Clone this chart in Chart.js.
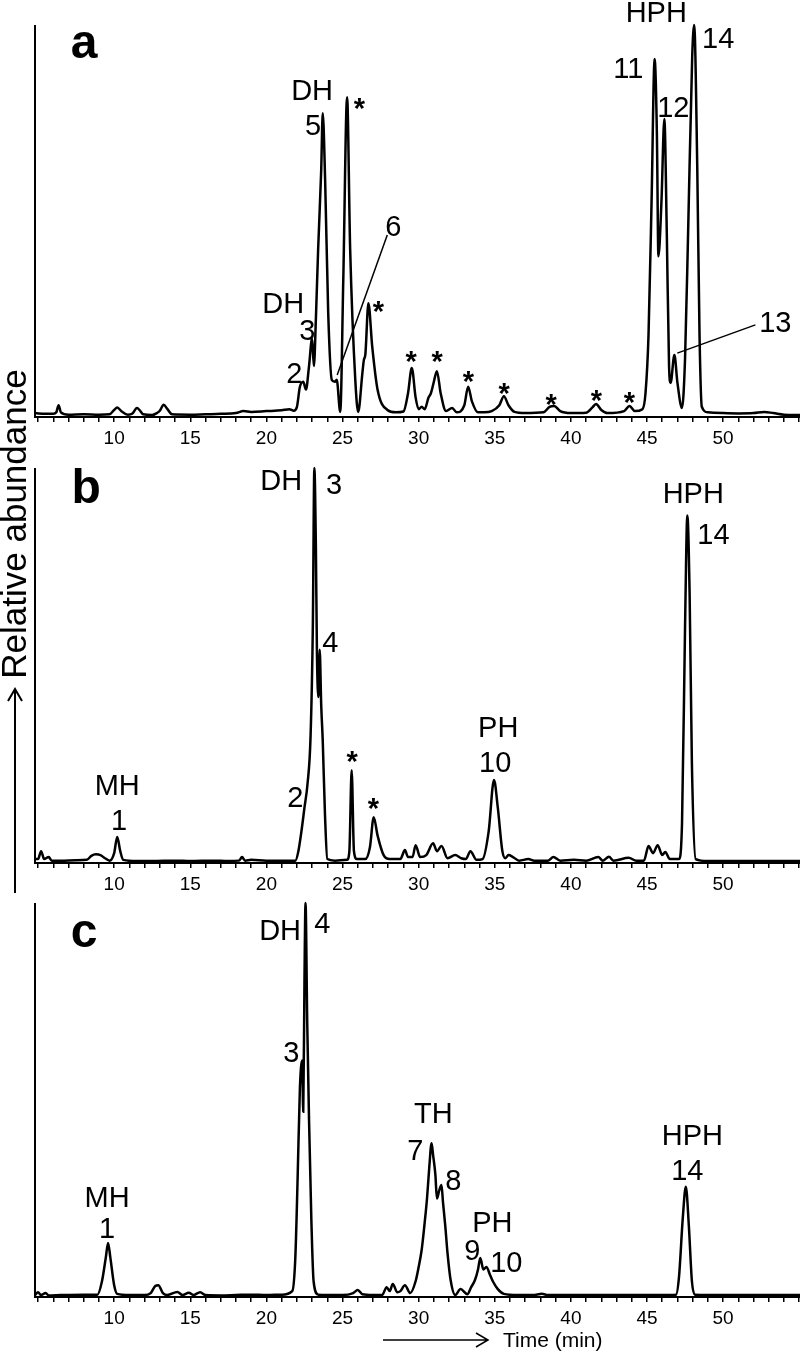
<!DOCTYPE html>
<html>
<head>
<meta charset="utf-8">
<script src="https://cdn.jsdelivr.net/npm/chart.js@4.4.0/dist/chart.umd.min.js"></script>
<style>
html, body { margin: 0; padding: 0; background: #fff; }
#wrap { position: relative; width: 800px; height: 1352px; overflow: hidden; }
#wrap canvas { position: absolute; left: 0; top: 0; }
</style>
</head>
<body>
<div id="wrap">
  <canvas id="chartA" width="800" height="1352"></canvas>
  <canvas id="chartB" width="800" height="1352"></canvas>
  <canvas id="chartC" width="800" height="1352"></canvas>
</div>
<script>
// Retention time (min) and relative abundance
const timesA = [4.8, 5.5, 6.0, 6.2, 6.35, 6.5, 7.0, 8.0, 9.0, 9.7, 10.0, 10.2, 10.5, 10.9, 11.2, 11.5, 11.7, 11.9, 12.5, 12.8, 13.0, 13.25, 13.5, 13.8,
  15, 16, 17, 18, 18.5, 19, 20, 21, 21.5, 21.8, 22.0, 22.2, 22.42, 22.6, 22.8, 23.0, 23.12, 23.25, 23.4, 23.6, 23.7, 23.86, 24.06, 24.3, 24.5, 24.62, 24.85,
  25.05, 25.3, 25.5, 25.84, 26.03, 26.3, 26.4, 26.5, 26.7, 26.95, 27.3, 27.95, 28.5, 29.0, 29.3, 29.55, 29.8, 30.0, 30.2, 30.4, 30.65, 30.8, 31.0, 31.2, 31.45, 31.8,
  32.2, 32.5, 33.0, 33.25, 33.5, 33.9, 34.3, 34.8, 35.3, 35.6, 35.9, 36.3, 37, 38.2, 38.6, 38.9, 39.3, 40, 41.0, 41.4, 41.65, 42.0, 42.4, 43.5, 43.85, 44.2, 44.7,
  44.9, 45.1, 45.3, 45.5, 45.65, 45.75, 45.95, 46.14, 46.3, 46.45, 46.55, 46.8, 47.0, 47.3, 47.5, 47.7, 47.97, 48.1, 48.3, 48.45, 48.6, 49.0, 50, 51, 52, 52.7, 53.3, 54, 55.05];
const abundA = [1.0, 0.8, 0.8, 1.2, 3.0, 1.2, 0.6, 0.7, 0.6, 0.7, 1.8, 2.4, 1.4, 0.6, 0.9, 2.3, 1.6, 0.7, 0.5, 1.0, 1.6, 3.1, 2.0, 0.7,
  0.6, 0.7, 0.8, 1.0, 1.5, 1.3, 1.5, 1.7, 2.0, 1.6, 2.5, 7.7, 9.0, 7.0, 13, 20, 13, 25, 43, 63, 77.5, 60, 26.5, 9.4, 9.0, 9.5, 1.3,
  35, 81.6, 43, 9.4, 1.3, 11, 14.5, 16, 29, 18, 7, 1.8, 1.2, 1.4, 6, 12.5, 5, 2, 2.6, 2.0, 5, 6, 9, 11.7, 6, 1.5,
  2.3, 1.2, 3, 7.7, 4, 1.2, 1.2, 1.5, 3, 5.3, 3, 1.3, 1.0, 1.2, 2.6, 2.8, 1.5, 1.0, 1.1, 2.4, 3.3, 1.8, 1.0, 1.5, 2.8, 1.5, 2.0,
  6, 21, 55, 91.3, 72, 41, 55, 76, 47, 12.8, 8.7, 15.8, 8.7, 2.3, 15, 47, 92, 100, 64, 21, 2.6, 1.2, 1.0, 0.9, 1.0, 1.3, 1.0, 0.6, 0.5];

const timesB = [4.8, 5.0, 5.2, 5.4, 5.7, 5.9, 6.5, 7.5, 8.2, 8.5, 8.8, 9.1, 9.4, 9.7, 10.0, 10.2, 10.4, 10.6, 11.5, 12.5, 14, 15, 16.5, 17.5, 18.2, 18.4, 18.6, 19, 20, 21, 21.9,
  22.1, 22.3, 22.5, 22.7, 22.9, 23.05, 23.15, 23.25, 23.32, 23.42, 23.5, 23.6, 23.7, 23.85, 24.0, 24.5, 25.3, 25.45, 25.6, 25.75, 25.95, 26.5, 26.8, 27.05, 27.3, 27.7,
  28.1, 28.8, 29.1, 29.3, 29.6, 29.8, 30.1, 30.5, 30.95, 31.2, 31.5, 31.9, 32.4, 32.8, 33.1, 33.4, 33.8, 34.2, 34.6, 34.95, 35.2, 35.5, 35.7, 35.9, 36.2, 36.6,
  37.2, 37.6, 38.5, 38.85, 39.3, 40.2, 41.0, 41.8, 42.1, 42.5, 42.8, 43.8, 44.3, 44.8, 45.1, 45.4, 45.7, 46.0, 46.2, 46.5, 46.8, 47.1, 47.3, 47.5, 47.65, 47.8, 47.95,
  48.2, 49, 55.05];
const abundB = [1, 1, 3, 1, 1.5, 0.6, 0.6, 0.7, 0.8, 1.8, 2.2, 2.0, 1.2, 0.6, 2.5, 6.6, 3, 0.8, 0.5, 0.5, 0.6, 0.5, 0.6, 0.5, 0.6, 1.5, 0.6, 0.8, 0.6, 0.6, 0.6,
  3, 8, 14, 20, 32, 60, 100, 80, 53, 42, 54, 40, 31, 12, 1, 0.6, 0.8, 3, 23.5, 3, 1, 1, 4, 11.6, 7, 2,
  1, 1, 3.3, 1.5, 1.5, 4.5, 1.5, 2, 5, 3, 4.3, 1.2, 2, 1.2, 1, 3, 0.8, 1, 8, 21, 14, 3, 1.2, 2, 1.5, 0.6,
  1, 0.6, 0.6, 1.5, 0.6, 0.8, 0.6, 1.5, 0.6, 1.6, 0.6, 1.3, 0.6, 0.6, 4.3, 2.5, 4.5, 2.0, 2.8, 1, 1, 1, 10, 60, 88, 68, 25,
  1, 0.5, 0.5];

const timesC = [4.8, 5.0, 5.2, 5.5, 5.7, 6.5, 8, 8.9, 9.2, 9.45, 9.6, 9.75, 10.0, 10.2, 11, 12.0, 12.4, 12.7, 12.9, 13.2, 13.5, 14.15, 14.5, 14.9, 15.2, 15.65, 16.0,
  17, 18, 19, 20, 21.0, 21.7, 21.9, 22.05, 22.2, 22.35, 22.42, 22.5, 22.57, 22.68, 22.8, 22.95, 23.1, 23.4, 24, 25.0, 25.7, 26.0, 26.3, 27, 27.6, 27.9, 28.1, 28.3,
  28.6, 28.8, 29.1, 29.45, 29.8, 30.0, 30.2, 30.4, 30.55, 30.7, 30.85, 30.95, 31.1, 31.2, 31.35, 31.5, 31.6, 31.75, 31.9, 32.1, 32.4, 32.75, 33.2, 33.45, 33.7,
  33.9, 34.05, 34.25, 34.45, 34.7, 34.9, 35.2, 35.6, 36.5, 37.5, 38.1, 38.5, 40, 42, 44, 46, 46.9, 47.1, 47.35, 47.55, 47.75, 47.95, 48.15, 50, 52, 55.05];
const abundC = [0.5, 1.2, 0.5, 1, 0.4, 0.5, 0.6, 0.6, 4, 10, 13.7, 10, 3, 0.8, 0.5, 0.5, 1, 2.8, 3, 1, 0.5, 1.3, 0.5, 1.1, 0.5, 1.2, 0.5,
  0.4, 0.5, 0.6, 0.5, 0.6, 1.5, 10, 30, 53, 60, 47, 80, 100, 70, 45, 20, 4, 0.6, 0.5, 0.5, 1, 1.8, 0.7, 0.5, 0.5, 2.5, 1.5, 3.3,
  1.2, 1.5, 3, 1, 4, 7.6, 12, 19, 25, 33, 39, 36, 31, 25, 27, 28.4, 24, 18, 11, 4.3, 0.5, 2, 0.7, 2.5, 4.3,
  7, 9.9, 7, 7.6, 5.5, 3.8, 2, 0.8, 0.5, 0.5, 0.8, 0.5, 0.5, 0.5, 0.5, 0.5, 0.6, 5, 20, 28, 18, 4, 0.6, 0.5, 0.5, 0.5];

// Time axis
const timeMin = 4.8;
const timeMax = 55.05;
const tickLabels = [10, 15, 20, 25, 30, 35, 40, 45, 50];

// Peak annotations: [text, time, abundance] (text centre)
const labelsA = [['DH', 23.0, 83.4], ['5', 23.07, 74.5], ['*', 26.1, 80.4], ['6', 28.33, 48.7], ['DH', 21.1, 29.1], ['3', 22.68, 22.2],
  ['2', 21.83, 11.2], ['*', 27.35, 28.6], ['*', 29.51, 15.8], ['*', 31.22, 15.8], ['*', 33.26, 10.7], ['*', 35.62, 7.7], ['*', 38.71, 4.8],
  ['*', 41.67, 5.9], ['*', 43.84, 5.4], ['HPH', 45.61, 103.3], ['14', 49.68, 96.7], ['11', 43.77, 89.0], ['12', 46.73, 79.1], ['13', 53.43, 24.2]];
const labelsB = [['DH', 20.97, 97.0], ['3', 24.45, 96.0], ['4', 24.19, 56.0], ['2', 21.9, 16.7], ['MH', 10.2, 19.7], ['1', 10.33, 10.9],
  ['*', 25.64, 27.3], ['*', 27.02, 15.4], ['PH', 35.23, 34.4], ['10', 35.03, 25.6], ['HPH', 48.04, 93.7], ['14', 49.36, 83.3]];
const labelsC = [['DH', 20.9, 93.1], ['4', 23.67, 94.9], ['3', 21.63, 62.2], ['MH', 9.54, 25.4], ['1', 9.54, 17.5], ['TH', 30.96, 46.7],
  ['7', 29.78, 37.3], ['8', 32.27, 29.7], ['PH', 34.84, 19.0], ['9', 33.52, 11.9], ['10', 35.76, 8.9], ['HPH', 47.98, 41.1], ['14', 47.65, 32.2]];
// leader lines [t1, v1, t2, v2]
const leadersA = [[27.94, 46.4, 24.65, 10.7], [52.12, 23.5, 46.99, 16.3]];
// panel letters [text, time, abundance at baseline]
const letterA = ['a', 8.03, 91.6];
const letterB = ['b', 8.16, 91.1];
const letterC = ['c', 8.03, 88.8];

const FONT = '"Liberation Sans", Arial, sans-serif';

function toPoints(ts, vs) {
  return ts.map((t, i) => ({ x: t, y: vs[i] }));
}

function decor(labels, leaders, letter, extra) {
  return {
    id: 'decor',
    afterDatasetsDraw(chart) {
      const { ctx, chartArea, scales } = chart;
      const x = scales.x, y = scales.y;
      ctx.save();
      ctx.strokeStyle = '#000';
      ctx.fillStyle = '#000';
      // y axis line
      ctx.lineWidth = 2;
      ctx.beginPath();
      ctx.moveTo(chartArea.left, chartArea.top);
      ctx.lineTo(chartArea.left, chartArea.bottom + 1);
      ctx.stroke();

      ctx.textAlign = 'center';
      ctx.textBaseline = 'alphabetic';
      labels.forEach(([txt, t, v]) => {
        const px = x.getPixelForValue(t);
        const py = y.getPixelForValue(v);
        if (txt === '*') {
          ctx.font = 'bold 29px ' + FONT;
          ctx.fillText(txt, px, py + 16);
        } else {
          ctx.font = '29px ' + FONT;
          ctx.fillText(txt, px, py + 10);
        }
      });

      ctx.lineWidth = 1.5;
      leaders.forEach(([t1, v1, t2, v2]) => {
        ctx.beginPath();
        ctx.moveTo(x.getPixelForValue(t1), y.getPixelForValue(v1));
        ctx.lineTo(x.getPixelForValue(t2), y.getPixelForValue(v2));
        ctx.stroke();
      });

      ctx.font = 'bold 48px ' + FONT;
      ctx.fillText(letter[0], x.getPixelForValue(letter[1]), y.getPixelForValue(letter[2]));

      if (extra) extra(ctx);
      ctx.restore();
    }
  };
}

// axis titles, drawn with the last panel
function axisTitles(ctx) {
  ctx.lineWidth = 2;
  // y title with arrow
  ctx.beginPath();
  ctx.moveTo(15, 893);
  ctx.lineTo(15, 689);
  ctx.moveTo(8, 701);
  ctx.lineTo(15, 689);
  ctx.lineTo(22, 701);
  ctx.stroke();
  ctx.save();
  ctx.translate(26, 524);
  ctx.rotate(-Math.PI / 2);
  ctx.font = '35px ' + FONT;
  ctx.textAlign = 'center';
  ctx.fillText('Relative abundance', 0, 0);
  ctx.restore();
  // x title with arrow
  ctx.lineWidth = 1.5;
  ctx.beginPath();
  ctx.moveTo(383, 1340);
  ctx.lineTo(488, 1340);
  ctx.moveTo(476, 1333);
  ctx.lineTo(488, 1340);
  ctx.lineTo(476, 1347);
  ctx.stroke();
  ctx.font = '21px ' + FONT;
  ctx.textAlign = 'left';
  ctx.fillText('Time (min)', 503, 1347);
}

function makeChart(id, ts, vs, padTop, padBottom, plugin) {
  return new Chart(document.getElementById(id), {
    type: 'line',
    data: {
      datasets: [{
        data: toPoints(ts, vs),
        borderColor: '#000',
        borderWidth: 2.5,
        pointRadius: 0,
        fill: false,
        cubicInterpolationMode: 'monotone',
        clip: false
      }]
    },
    options: {
      responsive: false,
      animation: false,
      events: [],
      layout: { autoPadding: false, padding: { left: 35, right: 0, top: padTop, bottom: padBottom } },
      plugins: { legend: { display: false }, tooltip: { enabled: false } },
      scales: {
        x: {
          type: 'linear',
          min: timeMin,
          max: timeMax,
          afterFit(scale) {
            scale.height = 43;
            scale.paddingLeft = 0;
            scale.paddingRight = 0;
          },
          border: { display: true, color: '#000', width: 2 },
          grid: { display: true, drawOnChartArea: false, drawTicks: true, tickLength: 5, color: '#000', lineWidth: 1.5 },
          ticks: {
            stepSize: 1,
            maxTicksLimit: 100,
            includeBounds: false,
            autoSkip: false,
            maxRotation: 0,
            padding: 5,
            color: '#000',
            font: { family: FONT, size: 19 },
            callback: (v) => tickLabels.includes(v) ? String(v) : ''
          }
        },
        y: { display: false, min: 0, max: 100 }
      }
    },
    plugins: [plugin]
  });
}

makeChart('chartA', timesA, abundA, 25, 1352 - 417 - 43, decor(labelsA, leadersA, letterA));
makeChart('chartB', timesB, abundB, 468, 1352 - 863 - 43, decor(labelsB, [], letterB));
makeChart('chartC', timesC, abundC, 903, 1352 - 1297 - 43, decor(labelsC, [], letterC, axisTitles));
</script>
</body>
</html>
